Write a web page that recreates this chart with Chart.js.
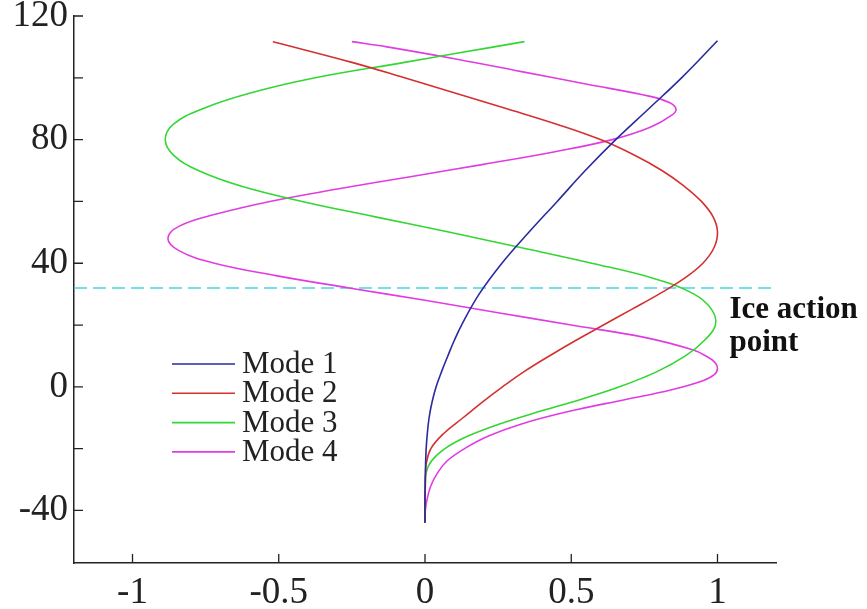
<!DOCTYPE html>
<html lang="en">
<head>
  <meta charset="UTF-8">
  <title>Mode shapes</title>
  <script src="https://cdn.jsdelivr.net/npm/chart.js"></script>
  <style>
    body { margin: 0; background: #fff; }
    .wrap { width: 867px; height: 609px; }
  </style>
</head>
<body>
  <div class="wrap"><canvas id="modeChart" width="867" height="609"></canvas></div>
  <script>
    // mode shapes (x = displacement, y = elevation)
    const mode1Y = [-44, -36, -30, -25, -20, -15, -10, -5, 0, 5, 10, 15, 20, 30, 40, 50, 60, 70, 80, 90, 100, 112];
    const mode1X = [0, 0, 0.001, 0.002, 0.004, 0.008, 0.014, 0.024, 0.038, 0.057, 0.078, 0.1, 0.125, 0.185, 0.263, 0.355, 0.452, 0.548, 0.652, 0.765, 0.877, 1.0];

    const mode2Y = [-44, -38, -32, -28, -25, -20, -15, -10, -5, 0, 5, 10, 15, 20, 25, 30, 35, 40, 45, 50, 55, 60, 65, 70, 75, 80, 85, 90, 95, 100, 105, 111.7];
    const mode2X = [0, 0, 0.001, 0.002, 0.004, 0.02, 0.065, 0.13, 0.195, 0.265, 0.34, 0.425, 0.515, 0.61, 0.705, 0.8, 0.885, 0.95, 0.988, 1.0, 0.985, 0.945, 0.885, 0.81, 0.715, 0.6, 0.45, 0.28, 0.105, -0.07, -0.25, -0.52];

    const mode3Y = [-44, -36, -32, -28, -24, -20, -16, -12, -8, -4, 0, 5, 10, 15, 20, 25, 30, 35, 40, 45, 50, 55, 60, 65, 70, 75, 80, 85, 90, 95, 100, 105, 108, 111.7];
    const mode3X = [0, 0, 0.001, 0.003, 0.022, 0.068, 0.145, 0.255, 0.39, 0.535, 0.665, 0.795, 0.89, 0.955, 0.993, 0.98, 0.92, 0.785, 0.57, 0.33, 0.085, -0.17, -0.42, -0.63, -0.775, -0.86, -0.888, -0.86, -0.76, -0.6, -0.375, -0.07, 0.113, 0.34];

    const mode4Y = [-44, -40, -36, -32, -28, -24, -20, -16, -12, -8, -4, -1, 2, 4, 6, 8, 10, 12, 16, 20, 24, 28, 32, 36, 40, 44, 48, 52, 56, 60, 64, 68, 72, 76, 80, 84, 88, 90, 92, 94, 98, 102, 106, 110, 111.7];
    const mode4X = [0, 0.001, 0.008, 0.02, 0.042, 0.075, 0.135, 0.215, 0.33, 0.49, 0.69, 0.84, 0.95, 0.99, 1.0, 0.99, 0.96, 0.915, 0.75, 0.5, 0.25, 0, -0.26, -0.51, -0.72, -0.84, -0.879, -0.84, -0.71, -0.53, -0.3, -0.05, 0.2, 0.44, 0.64, 0.77, 0.845, 0.858, 0.835, 0.77, 0.55, 0.33, 0.11, -0.13, -0.25];

    const modeNames = ['Mode 1', 'Mode 2', 'Mode 3', 'Mode 4'];
    const modeColors = ['#2a2a9e', '#d43030', '#33d633', '#e03ce0'];

    const iceLevel = 32;
    const iceX = [-1.2, 1.2];

    const xTicks = [-1, -0.5, 0, 0.5, 1];
    const yLabelled = [-40, 0, 40, 80, 120];

    const serif = '"Liberation Serif", "Times New Roman", serif';

    function zip(xs, ys) {
      return xs.map((v, i) => ({ x: v, y: ys[i] }));
    }

    const modeData = [
      zip(mode1X, mode1Y),
      zip(mode2X, mode2Y),
      zip(mode3X, mode3Y),
      zip(mode4X, mode4Y)
    ];

    const datasets = modeData.map((d, i) => ({
      label: modeNames[i],
      data: d,
      showLine: true,
      borderColor: modeColors[i],
      borderWidth: 1.6,
      pointRadius: 0,
      tension: 0.4,
      fill: false
    }));

    datasets.push({
      label: 'ice',
      data: iceX.map(v => ({ x: v, y: iceLevel })),
      showLine: true,
      borderColor: '#45d8e0',
      borderWidth: 1.5,
      borderDash: [13, 6],
      pointRadius: 0
    });

    // inward tick marks, legend box and the "Ice action point" note
    const extras = {
      id: 'extras',
      afterDatasetsDraw(chart) {
        const { ctx, chartArea: a, scales: { x, y } } = chart;
        ctx.save();
        ctx.strokeStyle = '#222';
        ctx.lineWidth = 1.3;
        ctx.beginPath();
        x.ticks.forEach(t => {
          const px = x.getPixelForValue(t.value);
          ctx.moveTo(px, a.bottom);
          ctx.lineTo(px, a.bottom - 9);
        });
        y.ticks.forEach(t => {
          const py = y.getPixelForValue(t.value);
          ctx.moveTo(a.left, py);
          ctx.lineTo(a.left + 9, py);
        });
        ctx.stroke();

        // legend
        ctx.font = '31px ' + serif;
        ctx.textBaseline = 'middle';
        ctx.fillStyle = '#222';
        for (let i = 0; i < modeNames.length; i++) {
          const ly = 364 + i * 29.3;
          ctx.strokeStyle = modeColors[i];
          ctx.lineWidth = 1.6;
          ctx.beginPath();
          ctx.moveTo(a.left + 98, ly);
          ctx.lineTo(a.left + 161, ly);
          ctx.stroke();
          ctx.fillText(modeNames[i], a.left + 168, ly + 1);
        }

        // note at the ice line
        const iy = y.getPixelForValue(iceLevel);
        const ix = x.getPixelForValue(1) + 12;
        ctx.font = 'bold 31px ' + serif;
        ctx.textBaseline = 'alphabetic';
        ctx.fillStyle = '#111';
        ctx.fillText('Ice action', ix, iy + 30);
        ctx.fillText('point', ix, iy + 63);
        ctx.restore();
      }
    };

    new Chart(document.getElementById('modeChart'), {
      type: 'scatter',
      data: { datasets },
      options: {
        responsive: false,
        animation: false,
        layout: { padding: { top: 16, right: 91, left: 0, bottom: 0 } },
        plugins: {
          legend: { display: false },
          tooltip: { enabled: false }
        },
        scales: {
          x: {
            type: 'linear',
            min: -1.2,
            max: 1.2,
            afterFit: s => { s.height = 46; },
            afterBuildTicks: s => { s.ticks = xTicks.map(v => ({ value: v })); },
            grid: { display: true, drawOnChartArea: false, drawTicks: false },
            border: { display: true, color: '#222', width: 1.5 },
            ticks: {
              padding: 8,
              color: '#222',
              font: { family: serif, size: 37 },
              callback: v => String(v)
            }
          },
          y: {
            type: 'linear',
            min: -57,
            max: 120,
            afterFit: s => { s.width = 74; },
            grid: { display: true, drawOnChartArea: false, drawTicks: false },
            border: { display: true, color: '#222', width: 1.5 },
            ticks: {
              stepSize: 20,
              includeBounds: false,
              padding: 6,
              color: '#222',
              font: { family: serif, size: 37, lineHeight: 0.5 },
              callback: v => (yLabelled.includes(v) ? String(v) : '')
            }
          }
        }
      },
      plugins: [extras]
    });
  </script>
</body>
</html>
